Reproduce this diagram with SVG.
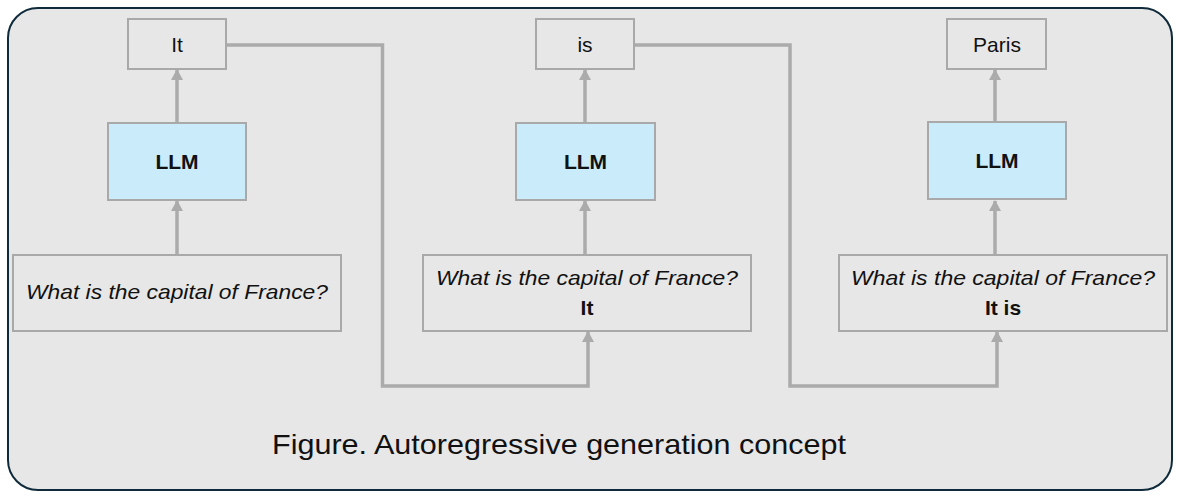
<svg xmlns="http://www.w3.org/2000/svg" width="1181" height="499" viewBox="0 0 1181 499">
<style>
  text { font-family: "Liberation Sans", Arial, sans-serif; fill: #111111; }
  .box { fill: #e7e7e7; stroke: #a9a9a9; stroke-width: 2; }
  .llm { fill: #caecfa; stroke: #a9a9a9; stroke-width: 2; }
  .tok { font-size: 21px; text-anchor: middle; }
  .bold { font-size: 21px; font-weight: bold; text-anchor: middle; }
  .q { font-size: 21px; font-style: italic; text-anchor: middle; }
  .conn { fill: none; stroke: #ababab; stroke-width: 3.5; }
</style>
<defs>
  <marker id="arr" viewBox="0 0 11 12" refX="10" refY="6" markerWidth="11" markerHeight="12" markerUnits="userSpaceOnUse" orient="auto">
    <path d="M0,0 L11,6 L0,12 Z" fill="#ababab"/>
  </marker>
</defs>
<rect x="0" y="0" width="1181" height="499" fill="#ffffff"/>
<rect id="frame" x="8" y="8" width="1164" height="482" rx="30" ry="30" fill="#e7e7e7" stroke="#0f2a3a" stroke-width="2"/>

<g id="connectors">
  <path class="conn" d="M177,255 L177,201" marker-end="url(#arr)"/>
  <path class="conn" d="M177,123 L177,70" marker-end="url(#arr)"/>
  <path class="conn" d="M585,255 L585,201" marker-end="url(#arr)"/>
  <path class="conn" d="M585,123 L585,70" marker-end="url(#arr)"/>
  <path class="conn" d="M995,255 L995,201" marker-end="url(#arr)"/>
  <path class="conn" d="M995,122 L995,70" marker-end="url(#arr)"/>
  <path class="conn" d="M227,45 L382.5,45 L382.5,386 L588,386 L588,332" marker-end="url(#arr)"/>
  <path class="conn" d="M635,45 L790,45 L790,386 L997,386 L997,332" marker-end="url(#arr)"/>
</g>

<g id="out1"><rect class="box" x="128" y="19" width="98" height="50"/><text class="tok" x="177" y="52">It</text></g>
<g id="llm1"><rect class="llm" x="108" y="123" width="138" height="77"/><text class="bold" x="177" y="169">LLM</text></g>
<g id="in1"><rect class="box" x="13" y="255" width="328" height="76"/><text class="q" x="177" y="299" textLength="302" lengthAdjust="spacingAndGlyphs">What is the capital of France?</text></g>

<g id="out2"><rect class="box" x="536" y="19" width="98" height="50"/><text class="tok" x="585" y="52">is</text></g>
<g id="llm2"><rect class="llm" x="516" y="123" width="139" height="77"/><text class="bold" x="585.5" y="169">LLM</text></g>
<g id="in2"><rect class="box" x="423" y="255" width="328" height="76"/><text class="q" x="587" y="285" textLength="302" lengthAdjust="spacingAndGlyphs">What is the capital of France?</text><text class="bold" x="587" y="315">It</text></g>

<g id="out3"><rect class="box" x="947" y="19" width="99" height="50"/><text class="tok" x="997" y="52">Paris</text></g>
<g id="llm3"><rect class="llm" x="928" y="122" width="138" height="77"/><text class="bold" x="997" y="168">LLM</text></g>
<g id="in3"><rect class="box" x="839" y="255" width="328" height="76"/><text class="q" x="1003" y="285" textLength="304" lengthAdjust="spacingAndGlyphs">What is the capital of France?</text><text class="bold" x="1003" y="315">It is</text></g>

<text id="caption" x="272" y="454" font-size="28" textLength="574" lengthAdjust="spacingAndGlyphs">Figure. Autoregressive generation concept</text>
</svg>
